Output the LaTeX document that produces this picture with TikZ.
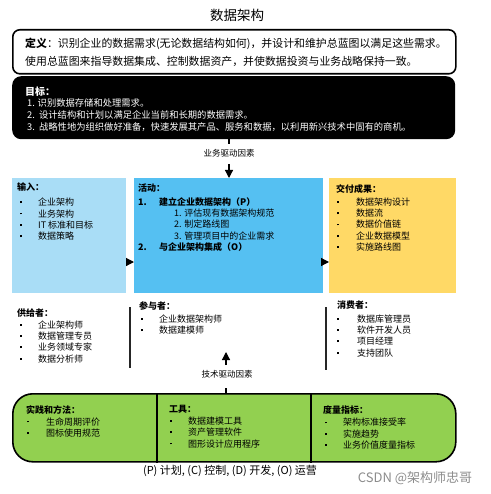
\documentclass[tikz,border=0pt]{standalone}
\usepackage{fontspec}
\setmainfont{Noto Sans CJK SC}
\usetikzlibrary{arrows.meta}
\definecolor{inblue}{HTML}{A9DDF6}
\definecolor{actblue}{HTML}{55C0F2}
\definecolor{delyel}{HTML}{FFD966}
\definecolor{pgreen}{HTML}{92D050}
\newcommand\bli[3]{\makebox[#1][l]{\hspace{#2}\raisebox{2.6pt}{\rule{1.8pt}{1.8pt}}}#3}
\begin{document}
\begin{tikzpicture}[x=1pt,y=-1pt,
  txt/.style={inner sep=0pt, anchor=north west, align=left, font=\fontsize{9}{11.3}\selectfont},
  box/.style={inner sep=0pt, anchor=north west, draw=none},
  tri/.style={line width=1.2pt, -{Triangle[length=8pt,width=8pt]}},
  tick/.style={line width=1.6pt},
  sep/.style={line width=1.2pt, black!85}]
\useasboundingbox (0,0) rectangle (490,494);
% title
\node[font=\fontsize{13.5}{15}\selectfont, inner sep=0pt] (title) at (237,15) {数据架构};
% definition
\node[draw, line width=1.6pt, rounded corners=7pt, minimum width=443pt, minimum height=44pt, anchor=north west, inner sep=0pt] (defbox) at (12,29) {};
\node[txt, font=\fontsize{10.9}{18}\selectfont] (deftext) at (25,38.2)
  {\textbf{定义}：识别企业的数据需求(无论数据结构如何)，并设计和维护总蓝图以满足这些需求。\\
   使用总蓝图来指导数据集成、控制数据资产，并使数据投资与业务战略保持一致。};
% goals
\node[fill=black, rounded corners=9pt, minimum width=443pt, minimum height=63pt, anchor=north west, inner sep=0pt] (goals) at (12,76) {};
\node[txt, text=white, font=\fontsize{10}{12}\selectfont\bfseries] (goalhead) at (25,86.5) {目标：};
\node[txt, text=white, font=\fontsize{9.3}{11.7}\selectfont] (goaltext) at (27,98.8)
  {1. 识别数据存储和处理需求。\\
   2.\ \ 设计结构和计划以满足企业当前和长期的数据需求。\\
   3.\ \ 战略性地为组织做好准备，快速发展其产品、服务和数据，以利用新兴技术中固有的商机。};
% business drivers
\node[inner sep=0pt, font=\fontsize{8.5}{10}\selectfont] (bizlab) at (229,153) {业务驱动因素};
\draw[tick] (goals.south -| bizlab) -- ++(0,5);
% three boxes
\node[box, fill=inblue, minimum width=114pt, minimum height=115pt] (inbox) at (12,178) {};
\node[box, fill=actblue, minimum width=189pt, minimum height=115pt] (actbox) at (134,178) {};
\node[box, fill=delyel, minimum width=127pt, minimum height=115pt] (delbox) at (329,178) {};
\coordinate (d1) at (229,164);
\draw[tri] (d1) -- (d1 |- actbox.north);
\coordinate (a1) at (126,262);
\draw[tri] (a1) -- (actbox.west |- a1);
\coordinate (a2) at (322,262);
\draw[tri] (a2) -- (delbox.west |- a2);
% input
\node[txt] (intext) at (17,183)
  {\textbf{输入：}\\[3.5pt]
   \bli{21pt}{3pt}{企业架构}\\
   \bli{21pt}{3pt}{业务架构}\\
   \bli{21pt}{3pt}{IT 标准和目标}\\
   \bli{21pt}{3pt}{数据策略}};
% activities
\node[txt] (acttext) at (138,184)
  {\textbf{活动：}\\[2pt]
   \textbf{\makebox[21pt][l]{1.}建立企业数据架构（P）}\\
   \hspace{36pt}1. 评估现有数据架构规范\\
   \hspace{36pt}2. 制定路线图\\
   \hspace{36pt}3. 管理项目中的企业需求\\
   \textbf{\makebox[21pt][l]{2.}与企业架构集成（O）}};
% deliverables
\node[txt] (deltext) at (336,184)
  {\textbf{交付成果：}\\[2pt]
   \bli{20pt}{1pt}{数据架构设计}\\
   \bli{20pt}{1pt}{数据流}\\
   \bli{20pt}{1pt}{数据价值链}\\
   \bli{20pt}{1pt}{企业数据模型}\\
   \bli{20pt}{1pt}{实施路线图}};
% suppliers
\node[txt] (suptext) at (17,309)
  {\textbf{供给者：}\\
   \bli{21pt}{3pt}{企业架构师}\\
   \bli{21pt}{3pt}{数据管理专员}\\
   \bli{21pt}{3pt}{业务领域专家}\\
   \bli{21pt}{3pt}{数据分析师}};
\coordinate (v1) at (130,307);
\draw[sep] (v1) -- ++(0,61);
% participants
\node[txt] (partext) at (139,301)
  {\textbf{参与者：}\\[2pt]
   \bli{20pt}{2pt}{企业数据架构师}\\
   \bli{20pt}{2pt}{数据建模师}};
\coordinate (v2) at (326,307);
\draw[sep] (v2) -- ++(0,63);
% consumers
\node[txt] (context) at (337,301)
  {\textbf{消费者：}\\[2pt]
   \bli{20pt}{0pt}{数据库管理员}\\
   \bli{20pt}{0pt}{软件开发人员}\\
   \bli{20pt}{0pt}{项目经理}\\
   \bli{20pt}{0pt}{支持团队}};
% technical drivers
\node[inner sep=0pt, font=\fontsize{8.5}{10}\selectfont] (techlab) at (227,374) {技术驱动因素};
\coordinate (u1) at (226,365);
\draw[tri] (u1) -- ++(0,-13);
% bottom green box
\node[draw, line width=1.6pt, fill=pgreen, rounded corners=20pt, minimum width=443pt, minimum height=68pt, anchor=north west, inner sep=0pt] (green) at (12,393) {};
\draw[tick] (green.north -| u1) -- ++(0,-5);
\draw[tick] ([xshift=145pt]green.north west) -- ([xshift=145pt]green.south west);
\draw[tick] ([xshift=299pt]green.north west) -- ([xshift=299pt]green.south west);
\node[txt] (practext) at (26,405)
  {\textbf{实践和方法：}\\[0.7pt]
   \bli{20pt}{1pt}{生命周期评价}\\
   \bli{20pt}{1pt}{图标使用规范}};
\node[txt] (tooltext) at (169,405)
  {\textbf{工具：}\\[0.7pt]
   \bli{19pt}{1pt}{数据建模工具}\\
   \bli{19pt}{1pt}{资产管理软件}\\
   \bli{19pt}{1pt}{图形设计应用程序}};
\node[txt] (mettext) at (323,406)
  {\textbf{度量指标：}\\[0.7pt]
   \bli{20pt}{2pt}{架构标准接受率}\\
   \bli{20pt}{2pt}{实施趋势}\\
   \bli{20pt}{2pt}{业务价值度量指标}};
% footer
\node[inner sep=0pt, font=\fontsize{11}{13}\selectfont] (footer) at (230,471) {(P) 计划, (C) 控制, (D) 开发, (O) 运营};
\node[inner sep=0pt, text=black!45, font=\fontsize{13}{15}\selectfont] (mark) at (415,478) {CSDN @架构师忠哥};
\end{tikzpicture}
\end{document}
